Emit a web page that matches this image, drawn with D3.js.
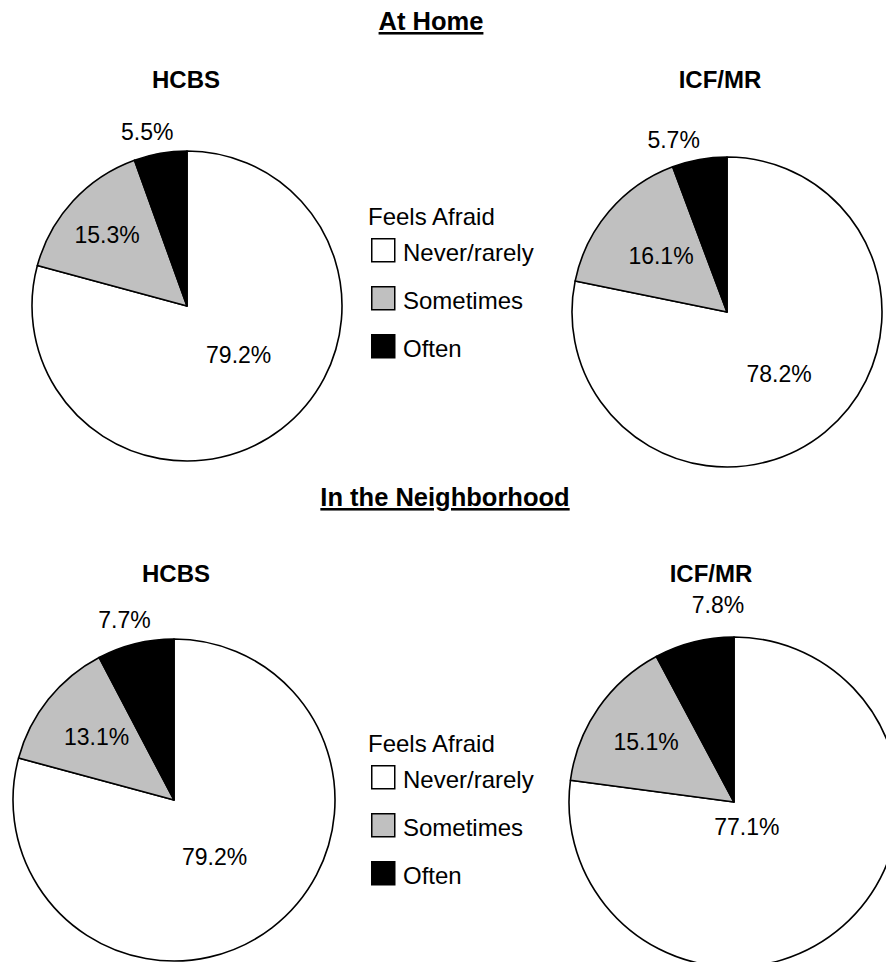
<!DOCTYPE html>
<html>
<head>
<meta charset="utf-8">
<script src="https://cdn.jsdelivr.net/npm/d3@7"></script>
<style>
  body { margin: 0; background: #fff; }
  svg { display: block; font-family: "Liberation Sans", Arial, sans-serif; }
  .section { font-weight: bold; font-size: 25.5px; text-decoration: underline; }
  .ptitle { font-weight: bold; font-size: 24px; }
  .pct { font-size: 23px; }
  .legend text { font-size: 24px; }
</style>
</head>
<body>
<svg width="886" height="962"></svg>
<script>
(function (d3) {
  'use strict';
  // data
  const categories = ['Never/rarely', 'Sometimes', 'Often'];
  const sections = ['At Home', 'In the Neighborhood'];
  const programs = ['HCBS', 'ICF/MR'];
  const homeHCBS = [79.2, 15.3, 5.5];
  const homeICF = [78.2, 16.1, 5.7];
  const hoodHCBS = [79.2, 13.1, 7.7];
  const hoodICF = [77.1, 15.1, 7.8];
  const legendTitle = 'Feels Afraid';

  const colors = d3.scaleOrdinal().domain(categories).range(['#ffffff', '#c0c0c0', '#000000']);

  const svg = d3.select('svg');

  // layout of each pie: centre, radius, title, label radius factor + angle nudge (deg)
  const panels = [
    { values: homeHCBS, cx: 187, cy: 306, r: 155, title: programs[0], tx: 186, ty: 88,
      lab: [[0.46, -9], [0.69, -1], [1.15, -3]] },
    { values: homeICF, cx: 727, cy: 312, r: 155, title: programs[1], tx: 720, ty: 88,
      lab: [[0.52, -1], [0.56, 0], [1.16, -7]] },
    { values: hoodHCBS, cx: 174, cy: 800, r: 161, title: programs[0], tx: 176, ty: 582,
      lab: [[0.435, 2], [0.62, 0.5], [1.16, -1.5]] },
    { values: hoodICF, cx: 734, cy: 802, r: 165, title: programs[1], tx: 711, ty: 582,
      lab: [[0.17, 14], [0.645, -0.4], [1.2, 9.4]] }
  ];

  const sectionPos = [{ x: 431, y: 30 }, { x: 445, y: 506 }];
  const legendPos = [{ x: 371, y: 238 }, { x: 371, y: 765 }];

  svg.selectAll('text.section').data(sections)
    .enter().append('text')
      .attr('class', 'section')
      .attr('x', (d, i) => sectionPos[i].x)
      .attr('y', (d, i) => sectionPos[i].y)
      .attr('text-anchor', 'middle')
      .text(d => d);

  const pie = d3.pie().sort(null);

  panels.forEach(p => {
    const g = svg.append('g')
      .attr('transform', `translate(${p.cx},${p.cy})`);
    const arc = d3.arc().innerRadius(0).outerRadius(p.r);
    const arcs = pie(p.values);

    g.selectAll('path').data(arcs)
      .enter().append('path')
        .attr('d', arc)
        .attr('fill', (d, i) => colors(categories[i]))
        .attr('stroke', '#000')
        .attr('stroke-width', 1.6)
        .attr('stroke-linejoin', 'round');

    g.selectAll('text.pct').data(arcs)
      .enter().append('text')
        .attr('class', 'pct')
        .attr('text-anchor', 'middle')
        .attr('dy', '0.35em')
        .attr('transform', (d, i) => {
          const a = (d.startAngle + d.endAngle) / 2 + p.lab[i][1] * Math.PI / 180;
          const k = p.lab[i][0] * p.r;
          return `translate(${k * Math.sin(a)},${-k * Math.cos(a)})`;
        })
        .text(d => d.value.toFixed(1) + '%');

    svg.append('text')
      .attr('class', 'ptitle')
      .attr('x', p.tx)
      .attr('y', p.ty)
      .attr('text-anchor', 'middle')
      .text(p.title);
  });

  legendPos.forEach(lp => {
    const lg = svg.append('g')
      .attr('class', 'legend')
      .attr('transform', `translate(${lp.x},${lp.y})`);
    lg.append('text')
      .attr('x', -3)
      .attr('y', -13)
      .text(legendTitle);
    const item = lg.selectAll('g.item').data(categories)
      .enter().append('g')
        .attr('transform', (d, i) => `translate(0,${i * 48})`);
    item.append('rect')
      .attr('x', 0.75)
      .attr('y', 0.75)
      .attr('width', 23)
      .attr('height', 23)
      .attr('fill', d => colors(d))
      .attr('stroke', '#000')
      .attr('stroke-width', 1.5);
    item.append('text')
      .attr('x', 32)
      .attr('y', 23)
      .text(d => d);
  });

}(d3));
</script>
</body>
</html>
